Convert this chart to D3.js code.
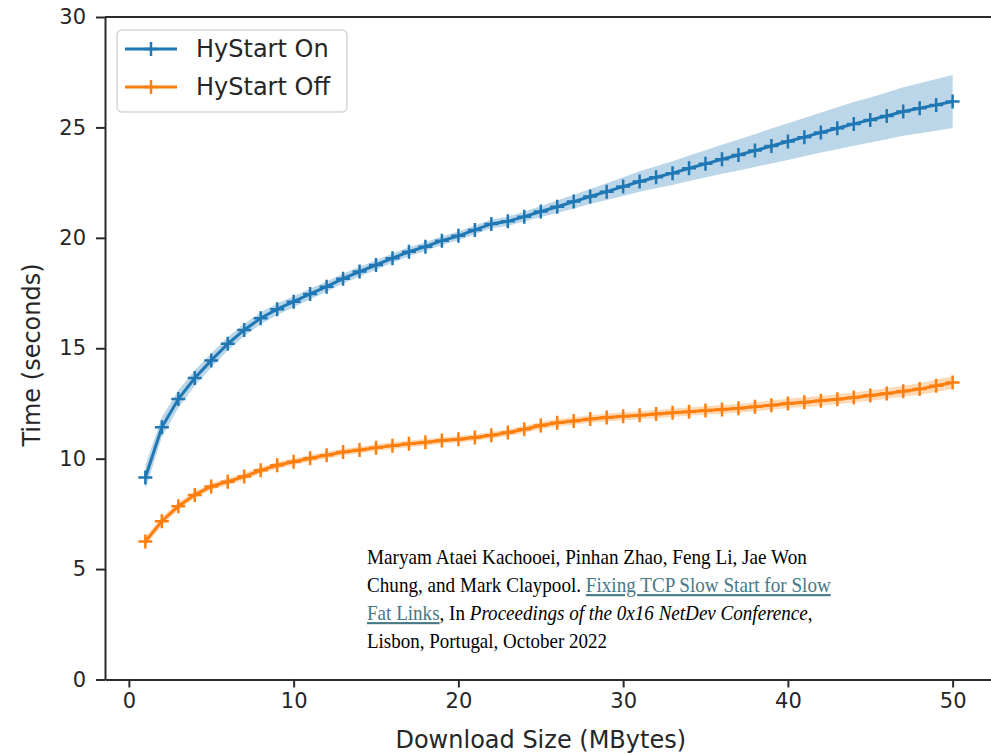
<!DOCTYPE html>
<html>
<head>
<meta charset="utf-8">
<script src="https://cdn.jsdelivr.net/npm/d3@7"></script>
<style>
  html, body { margin: 0; padding: 0; background: #fff; }
  svg { display: block; }
</style>
</head>
<body>
<svg id="chart" width="991" height="754"></svg>
<script>
// ---- data ----
const sizes = d3.range(1, 51); // download sizes (MBytes) 1..50
const hystartOn = [9.15, 11.42, 12.7, 13.65, 14.45, 15.2, 15.83, 16.36, 16.77, 17.11,
  17.46, 17.79, 18.15, 18.47, 18.77, 19.08, 19.37, 19.6, 19.87, 20.09,
  20.36, 20.63, 20.75, 20.96, 21.19, 21.41, 21.64, 21.87, 22.09, 22.32,
  22.55, 22.74, 22.93, 23.15, 23.35, 23.56, 23.75, 23.95, 24.16, 24.36,
  24.56, 24.77, 24.96, 25.16, 25.34, 25.52, 25.72, 25.87, 26.02, 26.17];
const hystartOnSpread = [0.55, 0.45, 0.4, 0.35, 0.32, 0.3, 0.28, 0.27, 0.26, 0.25,
  0.24, 0.23, 0.22, 0.22, 0.21, 0.21, 0.2, 0.2, 0.2, 0.2,
  0.2, 0.2, 0.21, 0.22, 0.25, 0.28, 0.31, 0.34, 0.38, 0.42,
  0.46, 0.5, 0.54, 0.58, 0.62, 0.66, 0.7, 0.74, 0.79, 0.83,
  0.87, 0.91, 0.95, 0.99, 1.02, 1.06, 1.1, 1.13, 1.17, 1.2];
const hystartOff = [6.25, 7.17, 7.85, 8.36, 8.74, 8.96, 9.19, 9.47, 9.7, 9.86,
  10.02, 10.16, 10.3, 10.39, 10.5, 10.59, 10.67, 10.74, 10.82, 10.88,
  10.96, 11.06, 11.18, 11.33, 11.5, 11.63, 11.71, 11.8, 11.86, 11.92,
  11.97, 12.02, 12.08, 12.13, 12.18, 12.23, 12.28, 12.35, 12.42, 12.5,
  12.56, 12.62, 12.69, 12.77, 12.86, 12.95, 13.05, 13.15, 13.3, 13.45];
const hystartOffSpread = [0.2, 0.18, 0.16, 0.15, 0.15, 0.15, 0.15, 0.15, 0.15, 0.15,
  0.15, 0.15, 0.15, 0.15, 0.15, 0.15, 0.15, 0.15, 0.15, 0.15,
  0.15, 0.15, 0.15, 0.16, 0.16, 0.17, 0.17, 0.17, 0.18, 0.18,
  0.18, 0.18, 0.19, 0.19, 0.19, 0.2, 0.2, 0.2, 0.21, 0.21,
  0.22, 0.22, 0.23, 0.23, 0.24, 0.24, 0.25, 0.26, 0.27, 0.28];
const seriesNames = ["HyStart On", "HyStart Off"];
const seriesColors = ["#1f77b4", "#ff7f0e"];
const xTicks = [0, 10, 20, 30, 40, 50];
const yTicks = [0, 5, 10, 15, 20, 25, 30];
const xLabel = "Download Size (MBytes)";
const yLabel = "Time (seconds)";
const citationLines = [
  [{t: "Maryam Ataei Kachooei, Pinhan Zhao, Feng Li, Jae Won"}],
  [{t: "Chung, and Mark Claypool. "}, {t: "Fixing TCP Slow Start for Slow", link: true}],
  [{t: "Fat Links", link: true}, {t: ", In "}, {t: "Proceedings of the 0x16 NetDev Conference", it: true}, {t: ","}],
  [{t: "Lisbon, Portugal, October 2022"}]
];

// ---- layout ----
const svg = d3.select("#chart");
const x = d3.scaleLinear().domain([-1.45, 52.45]).range([105, 993]);
const y = d3.scaleLinear().domain([0, 30]).range([679.5, 17]);
const font = "'DejaVu Sans', sans-serif";
const axisColor = "#2b2b2b";

const series = [
  {name: seriesNames[0], color: seriesColors[0], mean: hystartOn, spread: hystartOnSpread},
  {name: seriesNames[1], color: seriesColors[1], mean: hystartOff, spread: hystartOffSpread}
];

const area = d3.area()
  .x((d, i) => x(sizes[i]))
  .y0(d => y(d.lo))
  .y1(d => y(d.hi));
const line = d3.line().x((d, i) => x(sizes[i])).y(d => y(d));

const plot = svg.append("g");
series.forEach(s => {
  const band = s.mean.map((m, i) => ({lo: m - s.spread[i], hi: m + s.spread[i]}));
  plot.append("path").datum(band).attr("d", area)
    .attr("fill", s.color).attr("fill-opacity", 0.3).attr("stroke", "none");
});
series.forEach(s => {
  plot.append("path").datum(s.mean).attr("d", line)
    .attr("fill", "none").attr("stroke", s.color).attr("stroke-width", 3);
  const ms = 7;
  plot.append("g").selectAll("path").data(s.mean).join("path")
    .attr("d", (d, i) => {
      const cx = x(sizes[i]), cy = y(d);
      return `M${cx - ms},${cy}H${cx + ms}M${cx},${cy - ms}V${cy + ms}`;
    })
    .attr("stroke", s.color).attr("stroke-width", 2.5).attr("fill", "none");
});

// ---- axes ----
const xAxis = svg.append("g").attr("transform", `translate(0,${y(0)})`)
  .call(d3.axisBottom(x).tickValues(xTicks).tickSize(8).tickSizeOuter(0).tickPadding(6));
const yAxis = svg.append("g").attr("transform", `translate(${x.range()[0]},0)`)
  .call(d3.axisLeft(y).tickValues(yTicks).tickSize(9).tickSizeOuter(0).tickPadding(10));
[xAxis, yAxis].forEach(a => {
  a.selectAll("path.domain").attr("stroke", axisColor).attr("stroke-width", 2);
  a.selectAll(".tick line").attr("stroke", axisColor).attr("stroke-width", 2);
  a.selectAll(".tick text").attr("fill", "#262626").style("font-family", font).style("font-size", "21px");
});
// top spine (right spine lies just outside the picture)
svg.append("line").attr("x1", x.range()[0]).attr("x2", x.range()[1])
  .attr("y1", y(30)).attr("y2", y(30)).attr("stroke", axisColor).attr("stroke-width", 2.2);

svg.append("text").text(xLabel)
  .attr("x", (x(0) + x(50)) / 2).attr("y", 748).attr("text-anchor", "middle")
  .attr("fill", "#262626").style("font-family", font).style("font-size", "24px");
svg.append("text").text(yLabel)
  .attr("transform", `translate(40,355) rotate(-90)`).attr("text-anchor", "middle")
  .attr("fill", "#262626").style("font-family", font).style("font-size", "24px");

// ---- legend ----
const lg = svg.append("g");
lg.append("rect").attr("x", 117).attr("y", 30).attr("width", 230).attr("height", 82)
  .attr("rx", 5).attr("fill", "#fff").attr("fill-opacity", 0.8)
  .attr("stroke", "#d6d6d6").attr("stroke-width", 1.5);
series.forEach((s, i) => {
  const ly = 49 + i * 38;
  lg.append("line").attr("x1", 125).attr("x2", 177).attr("y1", ly).attr("y2", ly)
    .attr("stroke", s.color).attr("stroke-width", 3);
  lg.append("path").attr("d", `M144,${ly}H158M151,${ly - 7}V${ly + 7}`)
    .attr("stroke", s.color).attr("stroke-width", 2.5);
  lg.append("text").text(s.name).attr("x", 196).attr("y", ly + 8)
    .attr("fill", "#262626").style("font-family", font).style("font-size", "24px");
});

// ---- citation (each line condensed horizontally to the reference width) ----
const lineWidths = [440, 464, 446, 240];
citationLines.forEach((parts, i) => {
  const g = svg.append("g").attr("transform", `translate(367,${564 + i * 28})`);
  const t = g.append("text").attr("x", 0).attr("y", 0)
    .style("font-family", "'Liberation Serif', 'Times New Roman', serif")
    .style("font-size", "21px").attr("fill", "#000");
  parts.forEach(p => {
    const ts = t.append("tspan").text(p.t);
    if (p.link) ts.attr("fill", "#467886").style("text-decoration", "underline");
    if (p.it) ts.style("font-style", "italic");
  });
  const w = t.node().getComputedTextLength();
  t.attr("transform", `scale(${lineWidths[i] / w},1)`);
});
</script>
</body>
</html>
